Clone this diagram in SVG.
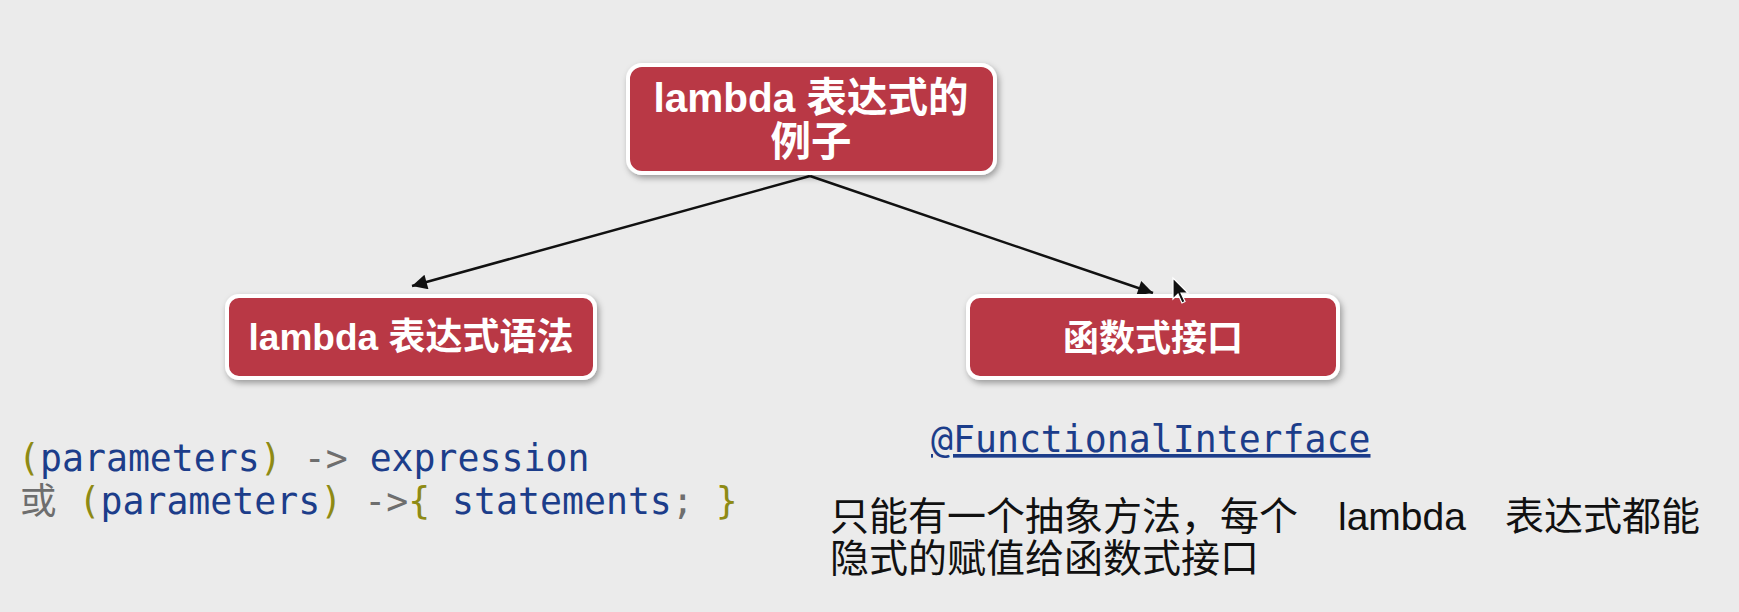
<svg xmlns="http://www.w3.org/2000/svg" width="1739" height="612" viewBox="0 0 1739 612">
<style>
.node rect{fill:#b93745;stroke:#ffffff;stroke-width:4;filter:url(#sh)}
.nt{font-family:"Liberation Sans","Noto Sans CJK SC",sans-serif;font-weight:bold;fill:#ffffff;text-anchor:middle}
.code{font-family:"DejaVu Sans Mono","Noto Sans CJK SC",monospace;font-size:36.5px;white-space:pre}
.b{fill:#1c3d8a}.o{fill:#8e8a14}.g{fill:#6e6e6e}
.desc{font-family:"Liberation Sans","Noto Sans CJK SC",sans-serif;font-size:39px;fill:#111111}
.conn{stroke:#111111;stroke-width:2.5;fill:none;marker-end:url(#ah)}
</style>
<defs>
<filter id="sh" x="-10%" y="-20%" width="125%" height="150%">
<feDropShadow dx="2" dy="3" stdDeviation="3" flood-color="#000000" flood-opacity="0.35"/>
</filter>
<marker id="ah" viewBox="0 0 10 10" refX="10" refY="5" markerWidth="7.5" markerHeight="6" orient="auto" markerUnits="strokeWidth">
<path d="M0,0 L10,5 L0,10 z" fill="#111111"/>
</marker>
</defs>
<rect width="1739" height="612" fill="#ebebeb"/>
<g id="connectors">
<line class="conn" x1="810" y1="176" x2="412" y2="286"/>
<line class="conn" x1="810" y1="176" x2="1153" y2="293"/>
</g>
<g id="node-top" class="node">
<rect x="628" y="65" width="367" height="108" rx="14"/>
<text class="nt" x="811" y="112" font-size="40.5">lambda 表达式的</text>
<text class="nt" x="811" y="156" font-size="40.5">例子</text>
</g>
<g id="node-left" class="node">
<rect x="227" y="296" width="368" height="82" rx="12"/>
<text class="nt" x="411" y="350" font-size="37">lambda 表达式语法</text>
</g>
<g id="node-right" class="node">
<rect x="968" y="296" width="370" height="82" rx="12"/>
<text class="nt" x="1153" y="351" font-size="36">函数式接口</text>
</g>
<g id="syntax-text">
<text class="code" x="18" y="471"><tspan class="o">(</tspan><tspan class="b">parameters</tspan><tspan class="o">)</tspan><tspan class="g"> -&gt; </tspan><tspan class="b">expression</tspan></text>
<text class="code" x="20" y="514"><tspan class="g">或 </tspan><tspan class="o">(</tspan><tspan class="b">parameters</tspan><tspan class="o">)</tspan><tspan class="g"> -&gt;</tspan><tspan class="o">{</tspan><tspan class="b"> statements</tspan><tspan class="g">; </tspan><tspan class="o">}</tspan></text>
</g>
<g id="interface-text">
<text class="code" x="931" y="452" fill="#1c3d8a" text-decoration="underline">@FunctionalInterface</text>
<text class="desc" y="530"><tspan x="830">只能有一个抽象方法，每个</tspan><tspan x="1338">lambda</tspan><tspan x="1505">表达式都能</tspan></text>
<text class="desc" x="830" y="572">隐式的赋值给函数式接口</text>
</g>
<g id="cursor">
<path d="M1173,278 L1173,299 L1178,294 L1182,303 L1185,301.5 L1181,293 L1188,293 Z" fill="#111111" stroke="#ffffff" stroke-width="1.2"/>
</g>
</svg>
